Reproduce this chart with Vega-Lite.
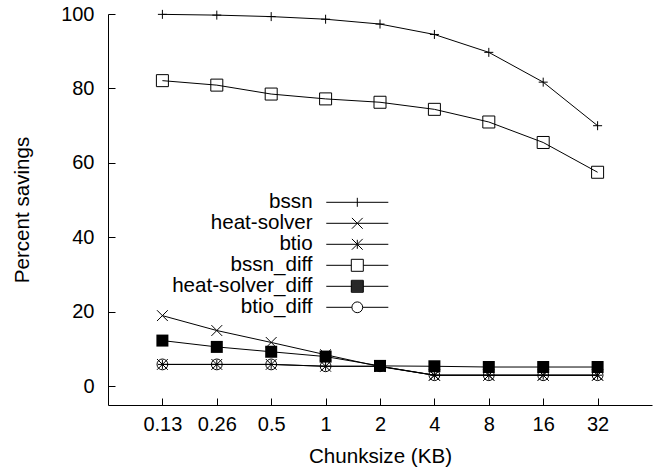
{
  "$schema": "https://vega.github.io/schema/vega-lite/v6.json",
  "width": 544,
  "height": 391,
  "autosize": {"type": "none"},
  "padding": {"left": 108, "top": 14, "right": 5, "bottom": 67},
  "background": "white",
  "config": {
    "font": "Liberation Sans",
    "view": {"stroke": null},
    "axis": {
      "domainColor": "black",
      "domainWidth": 1,
      "tickColor": "black",
      "tickWidth": 1,
      "tickSize": -7,
      "labelColor": "black",
      "labelFont": "Liberation Sans",
      "labelFontSize": 20,
      "titleFont": "Liberation Sans",
      "titleFontSize": 20.6,
      "titleFontWeight": "normal",
      "titleColor": "black",
      "grid": false
    },
    "legend": {
      "labelFont": "Liberation Sans",
      "labelFontSize": 20.6,
      "labelColor": "black",
      "symbolBaseStrokeColor": "black",
      "symbolStrokeColor": "black",
      "symbolBaseFillColor": "transparent",
      "symbolFillColor": "transparent",
      "symbolStrokeWidth": 1,
      "symbolOpacity": 1
    }
  },
  "data": {
    "values": [
      {"chunk": "0.13", "series": "bssn", "value": 99.9},
      {"chunk": "0.26", "series": "bssn", "value": 99.7},
      {"chunk": "0.5", "series": "bssn", "value": 99.3},
      {"chunk": "1", "series": "bssn", "value": 98.6},
      {"chunk": "2", "series": "bssn", "value": 97.3},
      {"chunk": "4", "series": "bssn", "value": 94.5},
      {"chunk": "8", "series": "bssn", "value": 89.7},
      {"chunk": "16", "series": "bssn", "value": 81.7},
      {"chunk": "32", "series": "bssn", "value": 70.0},
      {"chunk": "0.13", "series": "heat-solver", "value": 19.0},
      {"chunk": "0.26", "series": "heat-solver", "value": 15.0},
      {"chunk": "0.5", "series": "heat-solver", "value": 11.8},
      {"chunk": "1", "series": "heat-solver", "value": 8.5},
      {"chunk": "2", "series": "heat-solver", "value": 5.3},
      {"chunk": "4", "series": "heat-solver", "value": 3.0},
      {"chunk": "8", "series": "heat-solver", "value": 3.0},
      {"chunk": "16", "series": "heat-solver", "value": 3.0},
      {"chunk": "32", "series": "heat-solver", "value": 3.0},
      {"chunk": "0.13", "series": "btio", "value": 5.9},
      {"chunk": "0.26", "series": "btio", "value": 5.9},
      {"chunk": "0.5", "series": "btio", "value": 5.9},
      {"chunk": "1", "series": "btio", "value": 5.4},
      {"chunk": "2", "series": "btio", "value": 5.4},
      {"chunk": "4", "series": "btio", "value": 3.0},
      {"chunk": "8", "series": "btio", "value": 3.0},
      {"chunk": "16", "series": "btio", "value": 3.0},
      {"chunk": "32", "series": "btio", "value": 3.0},
      {"chunk": "0.13", "series": "bssn_diff", "value": 82.1},
      {"chunk": "0.26", "series": "bssn_diff", "value": 80.9},
      {"chunk": "0.5", "series": "bssn_diff", "value": 78.5},
      {"chunk": "1", "series": "bssn_diff", "value": 77.2},
      {"chunk": "2", "series": "bssn_diff", "value": 76.3},
      {"chunk": "4", "series": "bssn_diff", "value": 74.4},
      {"chunk": "8", "series": "bssn_diff", "value": 71.0},
      {"chunk": "16", "series": "bssn_diff", "value": 65.5},
      {"chunk": "32", "series": "bssn_diff", "value": 57.5},
      {"chunk": "0.13", "series": "heat-solver_diff", "value": 12.3},
      {"chunk": "0.26", "series": "heat-solver_diff", "value": 10.6},
      {"chunk": "0.5", "series": "heat-solver_diff", "value": 9.3},
      {"chunk": "1", "series": "heat-solver_diff", "value": 8.0},
      {"chunk": "2", "series": "heat-solver_diff", "value": 5.5},
      {"chunk": "4", "series": "heat-solver_diff", "value": 5.4},
      {"chunk": "8", "series": "heat-solver_diff", "value": 5.2},
      {"chunk": "16", "series": "heat-solver_diff", "value": 5.2},
      {"chunk": "32", "series": "heat-solver_diff", "value": 5.2},
      {"chunk": "0.13", "series": "btio_diff", "value": 5.9},
      {"chunk": "0.26", "series": "btio_diff", "value": 5.9},
      {"chunk": "0.5", "series": "btio_diff", "value": 5.9},
      {"chunk": "1", "series": "btio_diff", "value": 5.4},
      {"chunk": "2", "series": "btio_diff", "value": 5.4},
      {"chunk": "4", "series": "btio_diff", "value": 3.0},
      {"chunk": "8", "series": "btio_diff", "value": 3.0},
      {"chunk": "16", "series": "btio_diff", "value": 3.0},
      {"chunk": "32", "series": "btio_diff", "value": 3.0}
    ]
  },
  "encoding": {
    "x": {
      "field": "chunk",
      "type": "ordinal",
      "sort": ["0.13", "0.26", "0.5", "1", "2", "4", "8", "16", "32"],
      "scale": {"type": "point", "padding": 1},
      "axis": {"title": "Chunksize (KB)", "labelAngle": 0, "labelPadding": 16, "titlePadding": 12}
    },
    "y": {
      "field": "value",
      "type": "quantitative",
      "scale": {"domain": [-5, 100], "nice": false, "zero": false},
      "axis": {"title": "Percent savings", "values": [0, 20, 40, 60, 80, 100], "labelPadding": 21, "titlePadding": 28}
    }
  },
  "resolve": {"scale": {"shape": "independent"}, "legend": {"shape": "independent"}},
  "layer": [
    {
      "mark": {"type": "line", "color": "black", "strokeWidth": 1},
      "encoding": {"detail": {"field": "series"}}
    },
    {
      "mark": {"type": "point", "filled": false, "color": "black", "strokeWidth": 1, "size": 144, "opacity": 0},
      "encoding": {
        "shape": {
          "field": "series",
          "type": "nominal",
          "scale": {
            "domain": ["bssn", "heat-solver", "btio", "bssn_diff", "heat-solver_diff", "btio_diff"],
            "range": [
              "M-5.17,0H5.17M0,-0.75V0.75",
              "M-5.17,0H5.17M-0.9,-0.9L0.9,0.9M-0.9,0.9L0.9,-0.9",
              "M-5.17,0H5.17M0,-0.75V0.75M-0.9,-0.9L0.9,0.9M-0.9,0.9L0.9,-0.9",
              "M-5.17,0H-1M1,0H5.17M-1,-1H1V1H-1Z",
              "M-5.17,0H5.17M-1,-1H1V1H-1ZM-1,-0.833H1M-1,-0.667H1M-1,-0.5H1M-1,-0.333H1M-1,-0.167H1M-1,0.167H1M-1,0.333H1M-1,0.5H1M-1,0.667H1M-1,0.833H1",
              "M-5.17,0H-0.9M0.9,0H5.17M0.9,0A0.9,0.9,0,1,1,-0.9,0A0.9,0.9,0,1,1,0.9,0Z"
            ]
          },
          "legend": {
            "title": null,
            "orient": "none",
            "legendX": 239,
            "legendY": 178,
            "padding": 0,
            "symbolSize": 144,
            "symbolStrokeColor": "black",
            "symbolStrokeWidth": 1,
            "symbolOpacity": 1,
            "labelAlign": "right",
            "labelOffset": -55,
            "labelLimit": 300,
            "rowPadding": 0
          }
        }
      }
    },
    {
      "transform": [{"filter": "datum.series !== 'heat-solver_diff'"}],
      "mark": {"type": "point", "filled": false, "color": "black", "strokeWidth": 1, "size": 144, "opacity": 1},
      "encoding": {
        "shape": {
          "field": "series",
          "type": "nominal",
          "scale": {
            "domain": ["bssn", "heat-solver", "btio", "bssn_diff", "heat-solver_diff", "btio_diff"],
            "range": [
              "M-0.75,0H0.75M0,-0.75V0.75",
              "M-0.9,-0.9L0.9,0.9M-0.9,0.9L0.9,-0.9",
              "M-0.75,0H0.75M0,-0.75V0.75M-0.9,-0.9L0.9,0.9M-0.9,0.9L0.9,-0.9",
              "M-1,-1H1V1H-1Z",
              "M-1,-1H1V1H-1Z",
              "M0.9,0A0.9,0.9,0,1,1,-0.9,0A0.9,0.9,0,1,1,0.9,0Z"
            ]
          },
          "legend": null
        }
      }
    },
    {
      "transform": [{"filter": "datum.series === 'heat-solver_diff'"}],
      "mark": {"type": "point", "filled": true, "shape": "square", "color": "black", "size": 144, "opacity": 1}
    }
  ]
}
